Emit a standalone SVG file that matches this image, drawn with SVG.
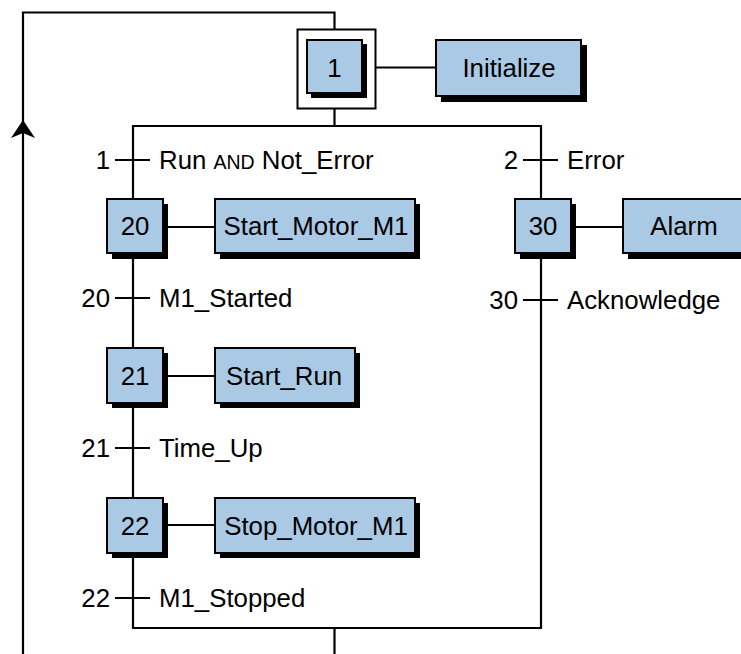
<svg xmlns="http://www.w3.org/2000/svg" width="741" height="654" viewBox="0 0 741 654">
<style>
.ln{stroke:#000;stroke-width:2.2;fill:none}
.bx{fill:#a9c9e5;stroke:#000;stroke-width:2}
.sh{fill:#000}
text{font-family:"Liberation Sans",Arial,sans-serif;font-size:25.8px;fill:#000}
.c{text-anchor:middle}
.e{text-anchor:end}
.sc{font-size:19.5px}
</style>
<rect width="741" height="654" fill="#fff"/>
<g id="connectors">
<path class="ln" d="M23,654 V12.5 H334.5 V29"/>
<path d="M23,120 L35,138 L23,133 L11,138 Z" fill="#000"/>
<path class="ln" d="M334.5,109 V126"/>
<path class="ln" d="M133,126 H541 V628 H133 Z"/>
<path class="ln" d="M334.5,628 V654"/>
<path class="ln" d="M376,67.5 H436"/>
<path class="ln" d="M163,227 H215 M571,227 H623 M163,376 H215 M163,525 H215"/>
<path class="ln" d="M115,160 H150 M523,160 H558 M115,298 H150 M523,300 H558 M115,448 H150 M115,598 H150"/>
</g>
<g id="step1">
<rect x="297.5" y="29.5" width="78" height="79" fill="#fff" stroke="#000" stroke-width="2"/>
<rect class="sh" x="311" y="44" width="56" height="54"/>
<rect class="bx" x="307" y="40" width="55" height="53"/>
<text class="c" x="334.5" y="77">1</text>
</g>
<g id="action-initialize">
<rect class="sh" x="441" y="45" width="146" height="57"/>
<rect class="bx" x="436" y="40" width="145" height="56"/>
<text class="c" x="509" y="77">Initialize</text>
</g>
<g id="t1">
<text class="e" x="110" y="169">1</text>
<text x="159" y="169">Run <tspan class="sc">AND</tspan> Not_Error</text>
</g>
<g id="t2">
<text class="e" x="518" y="169">2</text>
<text x="567" y="169">Error</text>
</g>
<g id="step20">
<rect class="sh" x="112" y="204" width="56" height="55"/>
<rect class="bx" x="107" y="199" width="56" height="54"/>
<text class="c" x="135" y="235">20</text>
</g>
<g id="action-start-motor">
<rect class="sh" x="220" y="204" width="200" height="55"/>
<rect class="bx" x="215" y="199" width="200" height="54"/>
<text class="c" x="316" y="235">Start_Motor_M1</text>
</g>
<g id="step30">
<rect class="sh" x="520" y="204" width="56" height="55"/>
<rect class="bx" x="515" y="199" width="56" height="54"/>
<text class="c" x="543" y="235">30</text>
</g>
<g id="action-alarm">
<rect class="sh" x="628" y="204" width="125" height="55"/>
<rect class="bx" x="623" y="199" width="125" height="54"/>
<text class="c" x="684" y="235">Alarm</text>
</g>
<g id="t20">
<text class="e" x="110" y="307">20</text>
<text x="159" y="307">M1_Started</text>
</g>
<g id="t30">
<text class="e" x="518" y="309">30</text>
<text x="567" y="309">Acknowledge</text>
</g>
<g id="step21">
<rect class="sh" x="112" y="353" width="56" height="55"/>
<rect class="bx" x="107" y="348" width="56" height="55"/>
<text class="c" x="135" y="385">21</text>
</g>
<g id="action-start-run">
<rect class="sh" x="220" y="353" width="140" height="55"/>
<rect class="bx" x="215" y="348" width="140" height="55"/>
<text class="c" x="284" y="385">Start_Run</text>
</g>
<g id="t21">
<text class="e" x="110" y="457">21</text>
<text x="159" y="457">Time_Up</text>
</g>
<g id="step22">
<rect class="sh" x="112" y="503" width="56" height="55"/>
<rect class="bx" x="107" y="498" width="56" height="55"/>
<text class="c" x="135" y="535">22</text>
</g>
<g id="action-stop-motor">
<rect class="sh" x="220" y="503" width="200" height="55"/>
<rect class="bx" x="215" y="498" width="200" height="55"/>
<text class="c" x="316" y="535">Stop_Motor_M1</text>
</g>
<g id="t22">
<text class="e" x="110" y="607">22</text>
<text x="159" y="607">M1_Stopped</text>
</g>
</svg>
